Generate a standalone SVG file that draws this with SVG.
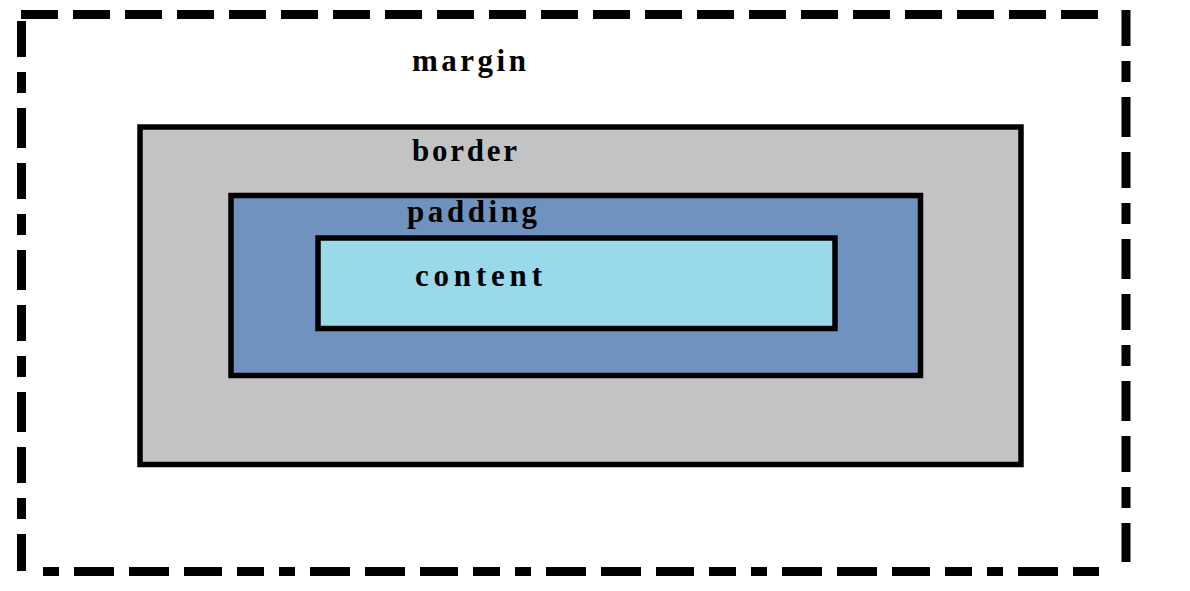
<svg xmlns="http://www.w3.org/2000/svg" width="1190" height="591" viewBox="0 0 1190 591">
<style>
.box{stroke:#000;stroke-width:5.5}
.dash{stroke:#000;stroke-width:9;fill:none;stroke-dasharray:37 15}
.lbl{font-family:"Liberation Serif","Times New Roman",serif;font-weight:bold;font-size:31px;fill:#000}
</style>
<rect width="1190" height="591" fill="#fff"/>
<g id="margin">
<line class="dash" x1="21" y1="14.5" x2="1108" y2="14.5"/>
<line class="dash" x1="1126" y1="10" x2="1126" y2="562" style="stroke-dasharray:36 15 21 15 40 15"/>
<line class="dash" x1="43" y1="571.5" x2="1099" y2="571.5" style="stroke-dasharray:16 15 40 15 40 15 38 15 27 15"/>
<line class="dash" x1="21.5" y1="21" x2="21.5" y2="571" style="stroke-dasharray:36 15 21 15 40 15"/>
<text class="lbl" x="412" y="71" textLength="114" lengthAdjust="spacing">margin</text>
</g>
<g id="border">
<rect class="box" x="140" y="127" width="881" height="337.5" fill="#c3c3c3"/>
<text class="lbl" x="412" y="161" textLength="105" lengthAdjust="spacing">border</text>
</g>
<g id="padding">
<rect class="box" x="231" y="195.5" width="689.5" height="180" fill="#7092be"/>
<text class="lbl" x="407" y="222" textLength="130" lengthAdjust="spacing">padding</text>
</g>
<g id="content">
<rect class="box" x="318" y="238" width="517" height="90.5" fill="#99d9ea"/>
<text class="lbl" x="415" y="286" textLength="127" lengthAdjust="spacing">content</text>
</g>
<g id="connectors"/>
</svg>
